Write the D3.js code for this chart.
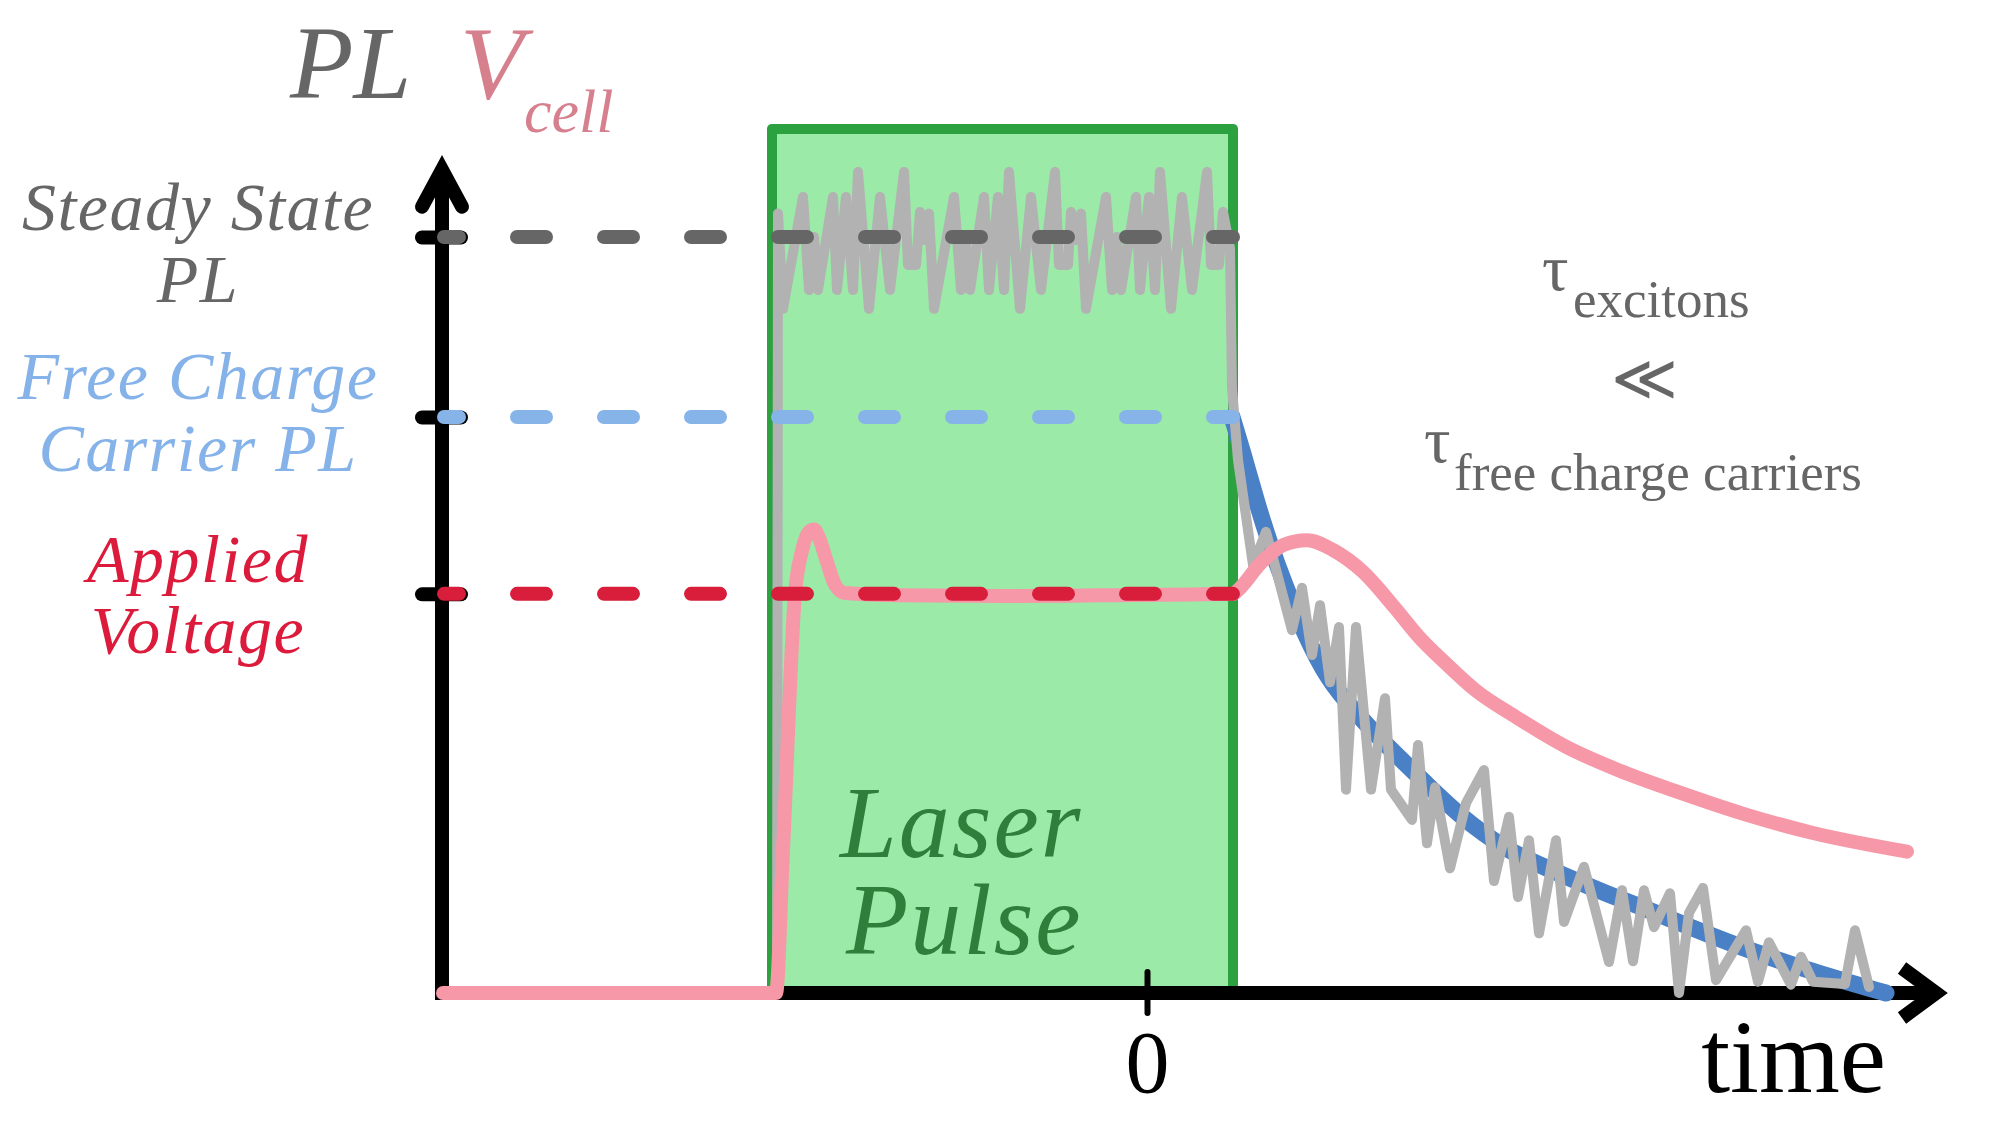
<!doctype html>
<html>
<head>
<meta charset="utf-8">
<title>PL and Vcell after a laser pulse</title>
<script src="https://d3js.org/d3.v7.min.js"></script>
<style>
    body {margin:0; background:#fff;}
    svg {display:block;}
    text {font-family:"Liberation Serif", serif;}
    .it {font-style:italic;}
</style>
</head>
<body>
<script>
"use strict";
var W = 2000, H = 1126;

// y-axis levels (PL units, steady state PL = 100)
var levelLines = [["Steady State", "PL"], ["Free Charge", "Carrier PL"], ["Applied", "Voltage"]];
var levelValues = [100, 76.2, 52.8];
var levelColors = ["#666666", "#86b3e8", "#d81e3b"];
var labelColors = ["#666666", "#85b2e8", "#dc1b3c"];

// laser pulse window (time units) and box height
var laserOn = -3.75, laserOff = 0.86, laserTop = 114.3;

// x ticks
var xTicks = [0];
var xTickLabels = ["0"];

// measured PL (gray, noisy) : [time, PL]
var plSeries = [
    [-7.04, 0], [-3.70, 0],
    [-3.69, 103.1], [-3.64, 90.5], [-3.44, 105.3], [-3.38, 93.0], [-3.33, 100.0], [-3.29, 93.0],
    [-3.14, 105.3], [-3.10, 93.0], [-3.01, 105.3], [-2.94, 93.0], [-2.89, 108.6], [-2.78, 90.5],
    [-2.67, 105.3], [-2.57, 93.0], [-2.43, 108.6], [-2.39, 96.3], [-2.31, 96.3], [-2.27, 103.3],
    [-2.23, 99.6],
    [-2.18, 103.1], [-2.13, 90.5], [-1.93, 105.3], [-1.86, 93.0], [-1.82, 100.0], [-1.77, 93.0],
    [-1.63, 105.3], [-1.58, 93.0], [-1.49, 105.3], [-1.43, 93.0], [-1.38, 108.6], [-1.27, 90.5],
    [-1.16, 105.3], [-1.06, 93.0], [-0.92, 108.6], [-0.88, 96.3], [-0.79, 96.3], [-0.76, 103.3],
    [-0.71, 99.6],
    [-0.66, 103.1], [-0.61, 90.5], [-0.41, 105.3], [-0.35, 93.0], [-0.30, 100.0], [-0.26, 93.0],
    [-0.11, 105.3], [-0.07, 93.0], [0.02, 105.3], [0.08, 93.0], [0.13, 108.6], [0.24, 90.5],
    [0.35, 105.3], [0.45, 93.0], [0.60, 108.6], [0.64, 96.3], [0.72, 96.3], [0.76, 103.3],
    [0.83, 98.5], [0.85, 80.0],
    [0.91, 70.5], [1.06, 56.6], [1.19, 61.0], [1.45, 48.0], [1.55, 53.6], [1.65, 44.7],
    [1.73, 51.3], [1.83, 41.1], [1.92, 48.4], [1.99, 26.9], [2.09, 48.4], [2.24, 26.9],
    [2.38, 39.0], [2.44, 26.9], [2.65, 22.9], [2.71, 32.8], [2.80, 19.8], [2.88, 27.2],
    [3.03, 16.5], [3.19, 25.1], [3.37, 29.5], [3.47, 14.8], [3.62, 23.3], [3.71, 12.7],
    [3.82, 20.2], [3.92, 7.9], [4.09, 20.2], [4.17, 9.4], [4.37, 16.7], [4.62, 4.1],
    [4.75, 13.6], [4.86, 4.2], [4.97, 13.6], [5.07, 8.7], [5.23, 13.2], [5.32, 0.0],
    [5.42, 10.6], [5.56, 13.9], [5.69, 1.7], [5.99, 8.3], [6.11, 1.5], [6.22, 6.7],
    [6.44, 1.1], [6.54, 4.8], [6.66, 1.5], [6.98, 1.2], [7.08, 8.3], [7.22, 0.8]
];

// cell voltage (pink) : [time, PL-equivalent units]
var vcellSeries = [
    [-7.04, 0], [-3.71, 0], [-3.64, 18.9], [-3.52, 52.8], [-3.45, 58.5], [-3.38, 61.0],
    [-3.33, 61.3], [-3.28, 60.2], [-3.20, 57.0], [-3.12, 54.0], [-3.02, 52.9], [-2.47, 52.6],
    [-1.47, 52.5], [-0.47, 52.6], [0.86, 52.8], [0.91, 53.3], [1.14, 56.9], [1.37, 59.3],
    [1.60, 59.9], [1.86, 58.6], [2.16, 55.7], [2.47, 51.1], [2.72, 47.1], [2.98, 43.7],
    [3.28, 40.1], [3.69, 36.5], [4.20, 32.5], [4.71, 29.5], [5.33, 26.5], [5.94, 23.8],
    [6.65, 21.2], [7.60, 18.7]
];

// free charge carrier PL decay (blue)
var freeSeries = [
    [0.85, 76.2], [0.98, 70.5], [1.09, 65.2], [1.23, 59.3], [1.37, 54.2], [1.58, 47.4],
    [1.81, 41.4], [2.08, 37.2], [2.32, 33.7], [2.83, 27.2], [3.12, 23.5], [3.59, 18.9],
    [3.95, 16.8], [4.61, 13.0], [4.91, 11.6], [5.86, 6.3], [6.82, 2.1], [7.39, 0]
];

var x = d3.scaleLinear().domain([-7.05, 8.01]).range([442, 1948]);
var y = d3.scaleLinear().domain([0, 100]).range([993, 237]);
var yTop = 108.9;

var svg = d3.select("body").append("svg")
    .attr("width", W).attr("height", H);

var line = d3.line()
    .x(function(d) { return x(d[0]); })
    .y(function(d) { return y(d[1]); });

function italic(px, py, size, color, str, anchor) {
    return svg.append("text")
        .attr("class", "it")
        .attr("x", px).attr("y", py)
        .attr("text-anchor", anchor || "start")
        .attr("font-size", size)
        .attr("fill", color)
        .text(str);
}

// laser pulse box
svg.append("rect")
    .attr("x", x(laserOn)).attr("y", y(laserTop))
    .attr("width", x(laserOff) - x(laserOn))
    .attr("height", y(0) - y(laserTop))
    .attr("fill", "#9beaa8");
svg.append("path")
    .attr("d", line([[laserOn, 0], [laserOn, laserTop], [laserOff, laserTop], [laserOff, 0]]))
    .attr("fill", "none").attr("stroke", "#2ba13f")
    .attr("stroke-width", 10).attr("stroke-linejoin", "round");

// axes
var axisG = svg.append("g");
axisG.append("line")
    .attr("x1", x.range()[0]).attr("x2", x.range()[0])
    .attr("y1", y(0) + 7).attr("y2", y(yTop))
    .attr("stroke", "#000").attr("stroke-width", 14);
axisG.append("polyline")
    .attr("points", [[x.range()[0] - 20, y(yTop) + 37], [x.range()[0], y(yTop)], [x.range()[0] + 20, y(yTop) + 37]].join(" "))
    .attr("fill", "none").attr("stroke", "#000").attr("stroke-width", 14)
    .attr("stroke-linecap", "round").attr("stroke-linejoin", "miter");
axisG.append("line")
    .attr("x1", x.range()[0] - 7).attr("x2", x.range()[1] - 10)
    .attr("y1", y(0)).attr("y2", y(0))
    .attr("stroke", "#000").attr("stroke-width", 14);
axisG.append("polyline")
    .attr("points", [[x.range()[1] - 46, y(0) - 25], [x.range()[1] - 12, y(0)], [x.range()[1] - 46, y(0) + 25]].join(" "))
    .attr("fill", "none").attr("stroke", "#000").attr("stroke-width", 14)
    .attr("stroke-linecap", "butt").attr("stroke-linejoin", "miter");

// level stubs on the y axis
var yAxis = svg.append("g")
    .attr("transform", "translate(" + x.range()[0] + ",0)")
    .call(d3.axisLeft(y).tickValues(levelValues).tickFormat(""));
yAxis.select(".domain").remove();
yAxis.selectAll(".tick line")
    .attr("x1", -20).attr("x2", 19)
    .attr("stroke", "#000").attr("stroke-width", 14).attr("stroke-linecap", "round");

// zero tick on the time axis
var xAxis = svg.append("g")
    .attr("transform", "translate(0," + y(0) + ")")
    .call(d3.axisBottom(x).tickValues(xTicks).tickFormat(function(d, i) { return xTickLabels[i]; }));
xAxis.select(".domain").remove();
xAxis.selectAll(".tick line")
    .attr("y1", -21).attr("y2", 20)
    .attr("stroke", "#000").attr("stroke-width", 6).attr("stroke-linecap", "round");
xAxis.selectAll(".tick text")
    .attr("y", 99).attr("dy", null)
    .attr("font-family", "Liberation Serif").attr("font-size", 88).attr("fill", "#000");

// curves
svg.append("path")
    .attr("d", line.curve(d3.curveBasis)(freeSeries))
    .attr("fill", "none").attr("stroke", "#4a80c5").attr("stroke-width", 17)
    .attr("stroke-linecap", "round");
line.curve(d3.curveLinear);
svg.append("path")
    .attr("d", line(plSeries))
    .attr("fill", "none").attr("stroke", "#b2b2b2").attr("stroke-width", 10)
    .attr("stroke-linejoin", "round").attr("stroke-linecap", "round");
svg.append("path")
    .attr("d", line.curve(d3.curveMonotoneX)(vcellSeries))
    .attr("fill", "none").attr("stroke", "#f698a8").attr("stroke-width", 14)
    .attr("stroke-linecap", "round").attr("stroke-linejoin", "round");
line.curve(d3.curveLinear);

// dashed level lines
svg.selectAll(".level")
    .data(levelValues)
    .enter().append("line")
    .attr("class", "level")
    .attr("x1", x(-7.03)).attr("x2", x(laserOff))
    .attr("y1", function(d) { return y(d); })
    .attr("y2", function(d) { return y(d); })
    .attr("stroke", function(d, i) { return levelColors[i]; })
    .attr("stroke-width", 14).attr("stroke-linecap", "round")
    .attr("stroke-dasharray", "29,58").attr("stroke-dashoffset", 14);

// level labels
var labelDy = [[-7, 65], [-18, 54], [-12, 59]];
levelLines.forEach(function(lines, i) {
    lines.forEach(function(t, j) {
        italic(198, y(levelValues[i]) + labelDy[i][j], 68, labelColors[i], t, "middle")
            .attr("letter-spacing", 1.5);
    });
});

// axis titles
italic(290, 98, 104, "#666", "PL");
italic(460, 98, 104, "#d6808e", "V");
italic(524, 132, 62, "#d6808e", "cell");
svg.append("text")
    .attr("x", 1886).attr("y", 1092).attr("text-anchor", "end")
    .attr("font-size", 104).attr("fill", "#000")
    .text("time");

// laser pulse label
italic(840, 857, 102, "#2f7f3b", "Laser").attr("letter-spacing", 2);
italic(846, 954, 102, "#2f7f3b", "Pulse").attr("letter-spacing", 2);

// lifetime annotation
var tauColor = "#666";
svg.append("text").attr("x", 1542).attr("y", 290).attr("font-size", 66).attr("fill", tauColor).text("τ");
svg.append("text").attr("x", 1573).attr("y", 317).attr("font-size", 53).attr("fill", tauColor).text("excitons");
svg.append("text").attr("x", 1644).attr("y", 400).attr("text-anchor", "middle")
    .attr("font-size", 64).attr("fill", tauColor).text("≪");
svg.append("text").attr("x", 1424).attr("y", 462).attr("font-size", 66).attr("fill", tauColor).text("τ");
svg.append("text").attr("x", 1454).attr("y", 490).attr("font-size", 53).attr("fill", tauColor).text("free charge carriers");
</script>
</body>
</html>
